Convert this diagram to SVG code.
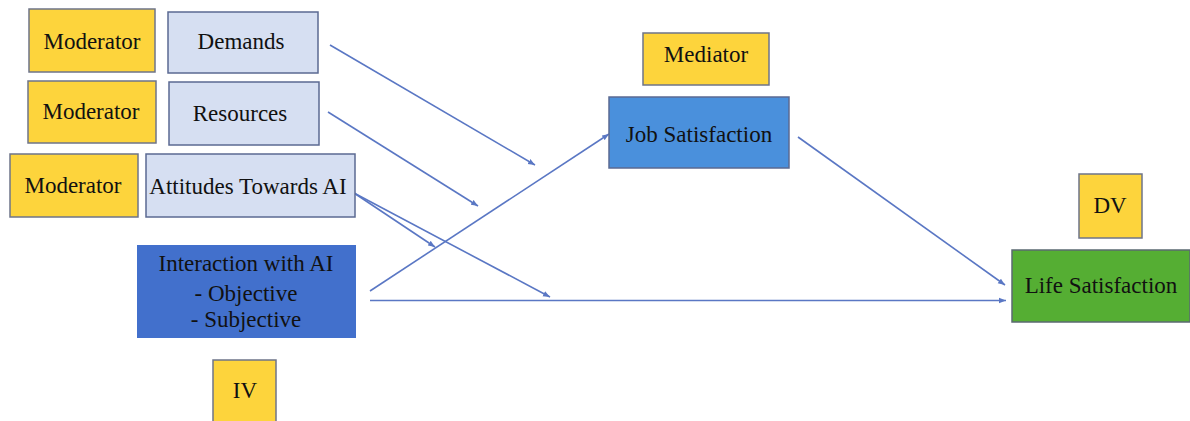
<svg xmlns="http://www.w3.org/2000/svg" width="1190" height="421" viewBox="0 0 1190 421">
<style>
text{font-family:"Liberation Serif","Times New Roman",serif;font-size:23px;fill:#111;text-anchor:middle}
.lbl{fill:#FDD43C;stroke:#6E7489;stroke-width:1.5}
.mod{fill:#D6DFF2;stroke:#5B6A92;stroke-width:1.5}
.c{stroke:#5A77C4;stroke-width:1.6;fill:none;marker-end:url(#ah)}
</style>
<defs>
<marker id="ah" viewBox="0 0 10 10" refX="10" refY="5" markerWidth="7" markerHeight="7" markerUnits="userSpaceOnUse" orient="auto"><path d="M0,1 L10,5 L0,9 z" fill="#5A77C4"/></marker>
</defs>
<rect width="1190" height="421" fill="#fff"/>
<g id="connectors">
<line class="c" x1="330" y1="45" x2="535" y2="165"/>
<line class="c" x1="328" y1="112" x2="478" y2="206"/>
<line class="c" x1="354" y1="193" x2="435" y2="247"/>
<line class="c" x1="354" y1="193" x2="550" y2="297"/>
<line class="c" x1="370" y1="291" x2="609" y2="134"/>
<line class="c" x1="370" y1="300.5" x2="1006" y2="300.5"/>
<line class="c" x1="798" y1="137" x2="1005" y2="285"/>
</g>
<g id="moderator1"><rect class="lbl" x="29" y="9" width="126" height="63"/><text x="92" y="49">Moderator</text></g>
<g id="demands"><rect class="mod" x="168" y="12" width="150" height="61"/><text x="241" y="49">Demands</text></g>
<g id="moderator2"><rect class="lbl" x="28" y="81" width="128" height="62"/><text x="91" y="119">Moderator</text></g>
<g id="resources"><rect class="mod" x="169" y="82" width="150" height="63"/><text x="240" y="121">Resources</text></g>
<g id="moderator3"><rect class="lbl" x="10" y="154" width="128" height="63"/><text x="73" y="193">Moderator</text></g>
<g id="attitudes"><rect class="mod" x="146" y="154" width="209" height="63"/><text x="248" y="194">Attitudes Towards AI</text></g>
<g id="interaction"><rect x="137" y="245" width="219" height="93" fill="#4270CC"/><text x="246" y="271">Interaction with AI</text><text x="246" y="301">- Objective</text><text x="246" y="327">- Subjective</text></g>
<g id="iv"><rect class="lbl" x="213" y="360" width="63" height="62"/><text x="245" y="398">IV</text></g>
<g id="mediator"><rect class="lbl" x="643" y="33" width="126" height="52"/><text x="706" y="62">Mediator</text></g>
<g id="job"><rect x="609" y="97" width="180" height="71" fill="#4A90DC" stroke="#5B6A92" stroke-width="1.5"/><text x="699" y="142">Job Satisfaction</text></g>
<g id="dv"><rect class="lbl" x="1079" y="174" width="63" height="64"/><text x="1110" y="213">DV</text></g>
<g id="life"><rect x="1012" y="250" width="178" height="72" fill="#55AE33" stroke="#5B6A72" stroke-width="1.5"/><text x="1101" y="293">Life Satisfaction</text></g>
</svg>
